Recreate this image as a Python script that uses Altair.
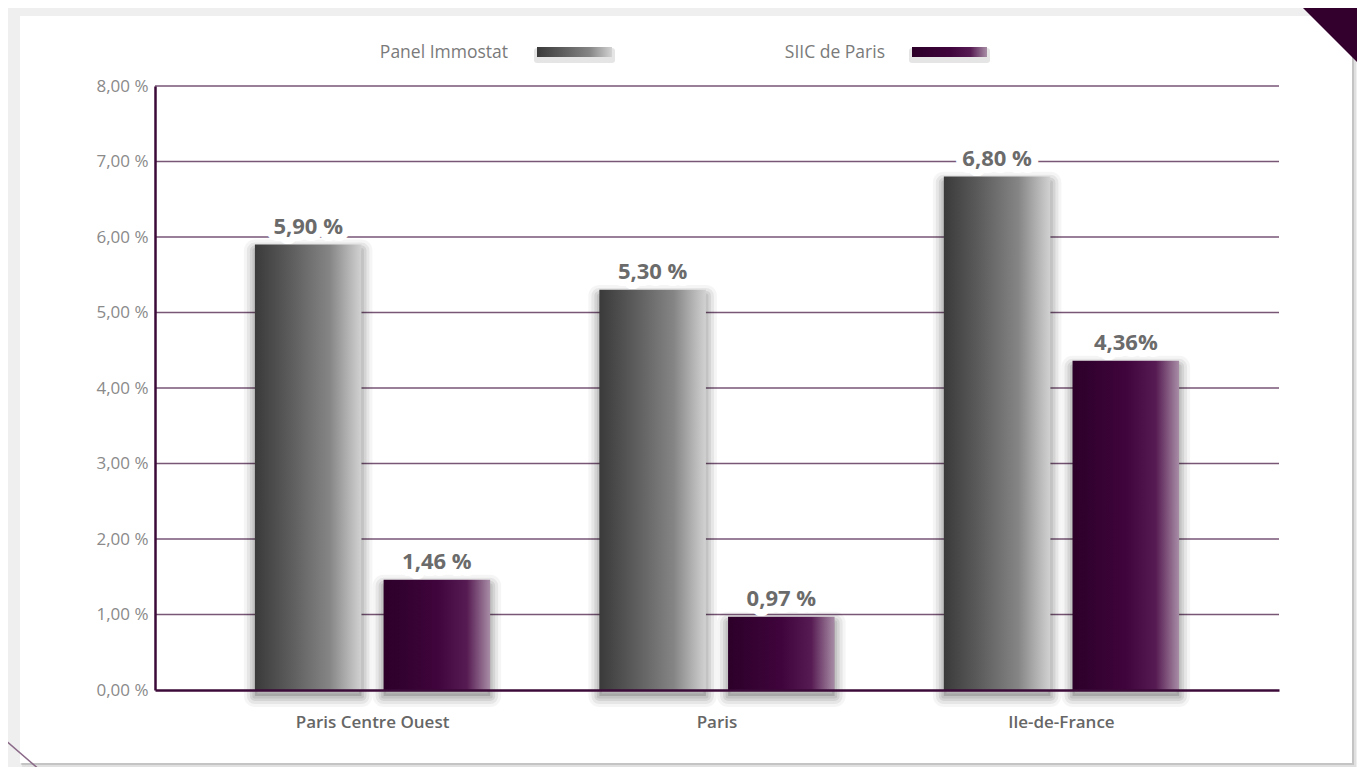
import altair as alt
import pandas as pd

# ---------------- data ----------------
categories = ["Paris Centre Ouest", "Paris", "Ile-de-France"]
series = ["Panel Immostat", "SIIC de Paris"]
immostat = [5.90, 5.30, 6.80]
siic = [1.46, 0.97, 4.36]
immostat_labels = ["5,90 %", "5,30 %", "6,80 %"]
siic_labels = ["1,46 %", "0,97 %", "4,36%"]
y_ticks = [0, 1, 2, 3, 4, 5, 6, 7, 8]
grid_values = [1, 2, 3, 4, 5, 6, 7, 8]

rows = []
for i, c in enumerate(categories):
    rows.append(dict(cat=c, series=series[0], value=immostat[i], label=immostat_labels[i]))
    rows.append(dict(cat=c, series=series[1], value=siic[i], label=siic_labels[i]))
df = pd.DataFrame(rows)
grid_df = pd.DataFrame({"v": grid_values})
one = pd.DataFrame({"a": [0]})

# ---------------- style ----------------
W, H = 1124, 604
FONT = "Open Sans"
DARK_PURPLE = "#3b0a38"
GRID_PURPLE = "#775676"
SHADOW_SHIFT = 0.08  # shadow drop, in axis units

gray_grad = alt.LinearGradient(
    gradient="linear", x1=0, x2=1, y1=0, y2=0,
    stops=[alt.GradientStop(color="#3a3a3a", offset=0),
           alt.GradientStop(color="#5e5e5e", offset=0.35),
           alt.GradientStop(color="#858585", offset=0.7),
           alt.GradientStop(color="#d2d2d2", offset=1)])
purple_grad = alt.LinearGradient(
    gradient="linear", x1=0, x2=1, y1=0, y2=0,
    stops=[alt.GradientStop(color="#2c0029", offset=0),
           alt.GradientStop(color="#3f043c", offset=0.5),
           alt.GradientStop(color="#561b52", offset=0.78),
           alt.GradientStop(color="#a88da6", offset=1)])

x_enc = alt.X("cat:N", sort=categories, title=None,
              scale=alt.Scale(paddingInner=0.317, paddingOuter=0.29),
              axis=alt.Axis(labelAngle=0, labelFont=FONT, labelFontSize=17,
                            labelFontWeight=600, labelColor="#666666",
                            labelPadding=24, ticks=False, domainColor=DARK_PURPLE,
                            domainWidth=2.5, grid=False, zindex=1))
xoff_enc = alt.XOffset("series:N", sort=series,
                       scale=alt.Scale(paddingInner=0.172, paddingOuter=0))
yscale = alt.Scale(domain=[0, 8], nice=False)
yaxis = alt.Axis(values=y_ticks, labelExpr="replace(format(datum.value, '.2f'), '.', ',') + ' %'",
                 labelFont=FONT, labelFontSize=17, labelColor="#8a8a8a",
                 labelPadding=7, ticks=False, domainColor=DARK_PURPLE,
                 domainWidth=2.5, grid=False, zindex=1)
y_enc = alt.Y("value:Q", scale=yscale, axis=yaxis, title=None)

# ---------------- page decoration ----------------
base1 = alt.Chart(one)
card_shadow1 = base1.mark_rect(color="#000000", opacity=0.06).encode(
    x=alt.value(-133), x2=alt.value(1201), y=alt.value(-68), y2=alt.value(682))
card_shadow2 = base1.mark_rect(color="#000000", opacity=0.12).encode(
    x=alt.value(-134), x2=alt.value(1199), y=alt.value(-69), y2=alt.value(679))
card = base1.mark_rect(color="#ffffff").encode(
    x=alt.value(-135), x2=alt.value(1197), y=alt.value(-70), y2=alt.value(677))
corner = base1.mark_point(shape="M-1,-1L1,-1L1,1Z", size=5184, filled=True,
                          color="#33002e", opacity=1, strokeWidth=0).encode(
    x=alt.value(1176), y=alt.value(-50))
diag = base1.mark_rule(color="#8a6a88", strokeWidth=1.5).encode(
    x=alt.value(-150), y=alt.value(654), x2=alt.value(-107), y2=alt.value(691))

# ---------------- grid ----------------
grid = alt.Chart(grid_df).mark_rule(color=GRID_PURPLE, strokeWidth=1.3).encode(
    y=alt.Y("v:Q", scale=yscale, axis=yaxis, title=None),
    x=alt.value(0), x2=alt.value(W))

# ---------------- bars ----------------
base = alt.Chart(df).encode(x=x_enc, xOffset=xoff_enc, y=y_enc, y2=alt.datum(0))

shadow_base = alt.Chart(df).transform_calculate(
    sv=f"datum.value - {SHADOW_SHIFT}"
).encode(
    x=x_enc, xOffset=xoff_enc,
    y=alt.Y("sv:Q", scale=yscale, axis=yaxis, title=None),
    y2=alt.datum(-SHADOW_SHIFT),
)
shadows = [
    shadow_base.mark_bar(fillOpacity=0, stroke="#000000", strokeOpacity=op,
                         strokeWidth=w, strokeJoin="round")
    for w, op in ((22, 0.04), (16, 0.06), (10, 0.08), (5, 0.08))
] + [shadow_base.mark_bar(color="#000000", opacity=0.14)]
bars_gray = base.mark_bar(color=gray_grad).transform_filter(alt.datum.series == series[0])
bars_purple = base.mark_bar(color=purple_grad).transform_filter(alt.datum.series == series[1])

halo = base.mark_text(font=FONT, fontSize=22, fontWeight="bold", baseline="alphabetic",
                      dy=-11, stroke="#ffffff", strokeWidth=14, strokeJoin="round",
                      color="#ffffff").encode(text="label:N")
labels = base.mark_text(font=FONT, fontSize=22, fontWeight="bold", baseline="alphabetic",
                        dy=-11, color="#6b6b6b").encode(text="label:N")

# ---------------- legend ----------------
leg_text1 = base1.mark_text(text=series[0], font=FONT, fontSize=17.5, color="#7a7a7a",
                            align="right", baseline="middle").encode(
    x=alt.value(353), y=alt.value(-33))
leg_text2 = base1.mark_text(text=series[1], font=FONT, fontSize=17.5, color="#7a7a7a",
                            align="right", baseline="middle").encode(
    x=alt.value(730), y=alt.value(-33))
leg_sh1 = base1.mark_rect(fillOpacity=0, stroke="#000000", strokeOpacity=0.1,
                          strokeWidth=6, strokeJoin="round").encode(
    x=alt.value(382), x2=alt.value(457), y=alt.value(-35), y2=alt.value(-26))
leg_sh2 = base1.mark_rect(fillOpacity=0, stroke="#000000", strokeOpacity=0.1,
                          strokeWidth=6, strokeJoin="round").encode(
    x=alt.value(757), x2=alt.value(832), y=alt.value(-35), y2=alt.value(-26))
leg_sw1 = base1.mark_rect(color=gray_grad).encode(
    x=alt.value(382), x2=alt.value(457), y=alt.value(-39), y2=alt.value(-29))
leg_sw2 = base1.mark_rect(color=purple_grad).encode(
    x=alt.value(757), x2=alt.value(832), y=alt.value(-39), y2=alt.value(-29))

chart = alt.layer(
    card_shadow1, card_shadow2, card, corner, diag, grid,
    *shadows, bars_gray, bars_purple, halo, labels,
    leg_sh1, leg_sh2, leg_sw1, leg_sw2, leg_text1, leg_text2,
).properties(
    width=W, height=H,
    autosize=alt.AutoSizeParams(type="none"),
    padding={"left": 147, "top": 78, "right": 78, "bottom": 77},
    background="#efefef",
).configure_view(strokeWidth=0)

chart.save("out.html", embed_options={"renderer": "svg", "actions": False})
